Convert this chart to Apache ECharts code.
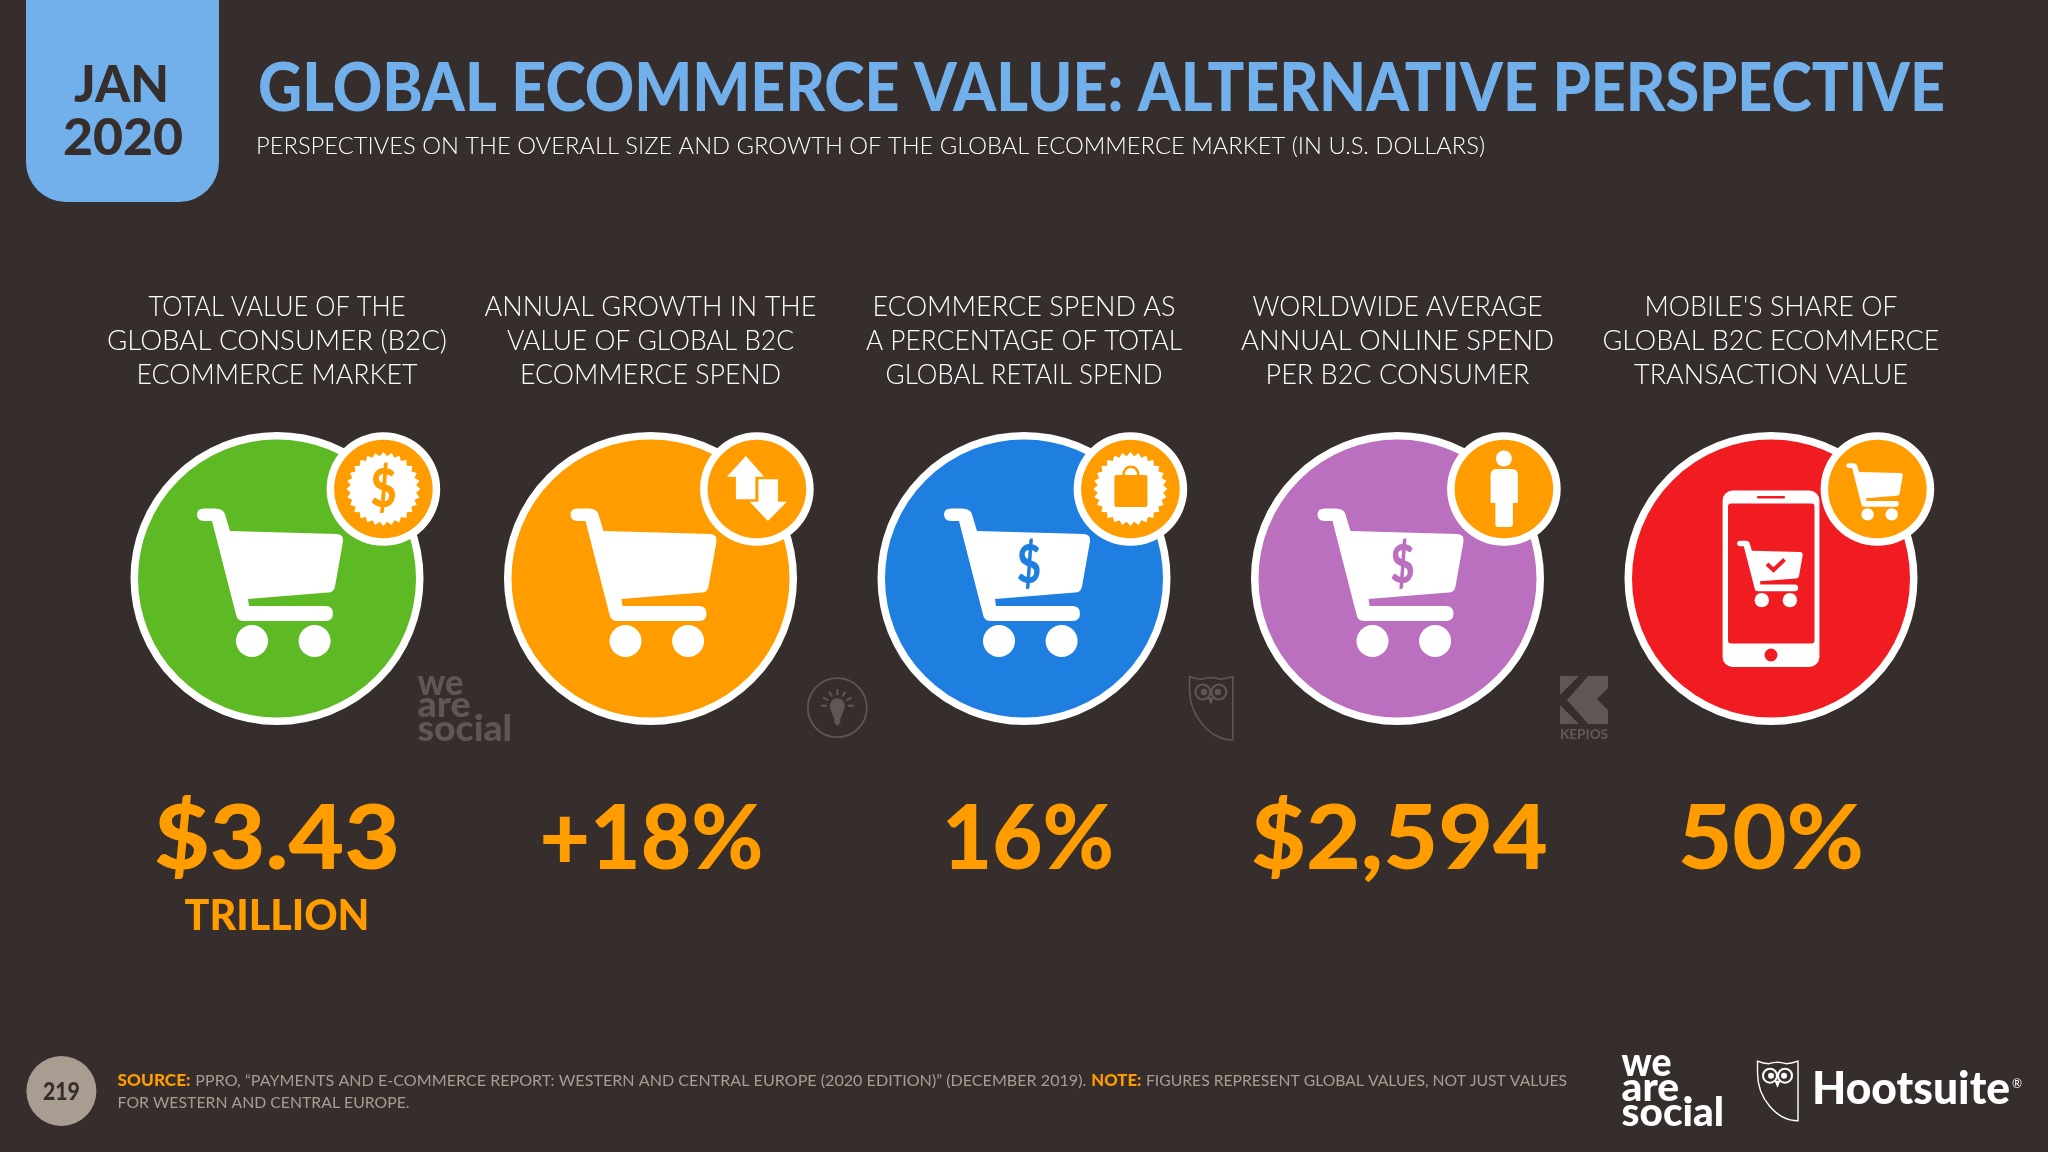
<!DOCTYPE html>
<html>
<head>
<meta charset="utf-8">
<title>Global Ecommerce Value: Alternative Perspective</title>
<style>
  html, body { margin: 0; padding: 0; background: #362e2c; }
  #chart { width: 2048px; height: 1152px; }
</style>
<script src="https://cdn.jsdelivr.net/npm/echarts@6/dist/echarts.min.js"></script>
</head>
<body>
<div id="chart"></div>
<script>
'use strict';

// slide data
const metricLabels = [
  ['TOTAL VALUE OF THE', 'GLOBAL CONSUMER (B2C)', 'ECOMMERCE MARKET'],
  ['ANNUAL GROWTH IN THE', 'VALUE OF GLOBAL B2C', 'ECOMMERCE SPEND'],
  ['ECOMMERCE SPEND AS', 'A PERCENTAGE OF TOTAL', 'GLOBAL RETAIL SPEND'],
  ['WORLDWIDE AVERAGE', 'ANNUAL ONLINE SPEND', 'PER B2C CONSUMER'],
  ["MOBILE'S SHARE OF", 'GLOBAL B2C ECOMMERCE', 'TRANSACTION VALUE']
];
const metricValues = ['$3.43', '+18%', '16%', '$2,594', '50%'];
const metricUnits = ['TRILLION', '', '', '', ''];
const metricKeys = ['market', 'growth', 'share', 'perConsumer', 'mobile'];

// styling
const discColors = ['#5dba24', '#ff9c00', '#1f7fe0', '#ba6fbf', '#f01c22'];
const labelWidths = [
  [257, 340, 281],
  [332, 287, 261],
  [303, 316, 277],
  [290, 313, 264],
  [253, 337, 274]
];
const valueWidths = [246, 224, 172, 297, 186];
const valueShifts = [0, 1, 4, 2, 0];
const BG = '#362e2c';
const BLUE = '#72b0ec';
const ORANGE = '#ff9c00';
const GREY = '#a89d90';
const FAINT = '#5f5755';
const LIGHT = 'Lato';

const CART = 'M-64.6 -70 C-58 -70 -53 -69 -52 -64 L-47 -47.5 L60 -44.5 Q67 -44 66 -37 L58 8 Q57 14 51 14 ' +
  'L-29 20.5 L-28 27.5 L48.5 27.5 Q56 27.5 56 35 Q56 42.5 48.5 42.5 L-34 42.5 Q-40 42.5 -41 36 ' +
  'L-65 -57.5 L-73 -57.5 Q-80 -58 -80 -64 Q-80 -70 -73 -70 Z';
const OWL = 'M0.5 0.5 C5 2.5 9 3 12 3 Q20 0 29 3 C33 3 37 2 41 0.5 L41 60 C20 60 0.5 38 0.5 12 Z';
const KEPIOS = ['M0 0 L19 0 L0 19 Z', 'M0 29 L19 48 L0 48 Z',
  'M28 0 L48 0 L48 12 L37 23 L48 34 L48 48 L28 48 L7 24 Z'];

const measure = document.createElement('canvas').getContext('2d');
function textWidth(text, font) {
  measure.font = font;
  return measure.measureText(text).width;
}

// text squeezed to a given width, the deck's font is much narrower than what we have here
function label(text, font, fill, x, y, width, align) {
  return {
    type: 'text', x: x, y: y, silent: true,
    scaleX: width ? width / textWidth(text, font) : 1,
    style: { text: text, font: font, fill: fill, align: align || 'left', verticalAlign: 'middle' }
  };
}

function poly(d, fill) {
  return { type: 'path', shape: { pathData: d }, style: { fill: fill } };
}

function dot(cx, cy, r, fill) {
  return { type: 'circle', shape: { cx: cx, cy: cy, r: r }, style: { fill: fill } };
}

function burst(n, outer, inner) {
  let d = '';
  for (let i = 0; i < n * 2; i++) {
    const r = i % 2 ? inner : outer;
    const a = Math.PI * i / n;
    d += (i ? 'L' : 'M') + (r * Math.sin(a)).toFixed(2) + ' ' + (-r * Math.cos(a)).toFixed(2) + ' ';
  }
  return d + 'Z';
}

function cart(x, y, scale, fill) {
  return {
    type: 'group', x: x, y: y, scaleX: scale, scaleY: scale,
    children: [poly(CART, fill), dot(-25, 62.5, 16, fill), dot(37.6, 62.5, 16, fill)]
  };
}

function badgeGlyph(key) {
  switch (key) {
    case 'market':
      return [poly(burst(28, 37, 33), '#fff'), label('$', '900 54px Lato', ORANGE, 0, 1, 26, 'center')];
    case 'growth':
      return [
        poly('M-11 -33 L7.3 -12.3 L-1.5 -12.3 L-1.5 10.3 L-21 10.3 L-21 -12.3 L-30 -12.3 Z', '#fff'),
        poly('M11 32 L-7.3 12.7 L1.5 12.7 L1.5 -9.7 L21 -9.7 L21 12.7 L30 12.7 Z', '#fff')
      ];
    case 'share':
      return [
        poly(burst(28, 37, 33), '#fff'),
        poly('M-14 -14 L15 -14 Q17 -14 17 -12 L17 16 Q17 18 15 18 L-14 18 Q-16 18 -16 16 L-16 -12 Q-16 -14 -14 -14 Z', ORANGE),
        { type: 'path', shape: { pathData: 'M-7 -14 C-7 -25 8 -25 8 -14' }, style: { fill: 'none', stroke: ORANGE, lineWidth: 2.5 } }
      ];
    case 'perConsumer':
      return [
        dot(0, -30.5, 8, '#fff'),
        poly('M-13.3 -14 Q-13.3 -20 -7 -20 L8 -20 Q14 -20 14 -14 L14 14 L9 14 L9 35 Q9 38 6 38 L-6 38 Q-8.5 38 -8.5 35 L-8.5 14 L-13.3 14 Z', '#fff')
      ];
    default:
      return [cart(-0.2, 1.3, 0.386, '#fff')];
  }
}

function discIcon(key, color) {
  if (key !== 'mobile') {
    const parts = [cart(0, 0, 1, '#fff')];
    if (key === 'share' || key === 'perConsumer') {
      parts.push(label('$', '900 54px Lato', color, 5, -13, 24, 'center'));
    }
    return parts;
  }
  return [
    { type: 'rect', shape: { x: -48.4, y: -88, width: 96.8, height: 176.5, r: 10 }, style: { fill: '#fff' } },
    { type: 'rect', shape: { x: -43, y: -75, width: 86.5, height: 140, r: 3 }, style: { fill: color } },
    { type: 'rect', shape: { x: -14, y: -82.5, width: 28, height: 2.5, r: 1 }, style: { fill: color } },
    dot(0, 76.5, 6.5, color),
    cart(2, -6.4, 0.449, '#fff'),
    { type: 'path', shape: { pathData: 'M-4 -14.5 L2.5 -8.5 L13.5 -19' }, style: { fill: 'none', stroke: color, lineWidth: 4 } }
  ];
}

function renderColumn(params, api) {
  const i = params.dataIndex;
  const c = api.coord([api.value(0), api.value(1)]);
  const children = [];
  metricLabels[i].forEach((line, n) => {
    children.push(label(line, '300 28px ' + LIGHT, '#fff', c[0], 307 + n * 34, labelWidths[i][n], 'center'));
  });
  children.push({ type: 'group', x: c[0], y: c[1], children: discIcon(metricKeys[i], discColors[i]) });
  children.push(dot(c[0] + 106.4, c[1] - 89.5, 56.8, '#fff'));
  children.push(dot(c[0] + 106.4, c[1] - 89.5, 49.3, ORANGE));
  children.push({ type: 'group', x: c[0] + 106.4, y: c[1] - 89.5, children: badgeGlyph(metricKeys[i]) });
  children.push(label(metricValues[i], '900 90px Lato', ORANGE, c[0] + valueShifts[i], 840, valueWidths[i], 'center'));
  if (metricUnits[i]) {
    children.push(label(metricUnits[i], '900 42px Lato', ORANGE, c[0], 916, 185, 'center'));
  }
  return { type: 'group', children: children };
}

function weAreSocial(x, y, scale, fill) {
  const f = '900 36px Lato';
  return {
    type: 'group', x: x, y: y, scaleX: scale, scaleY: scale,
    children: [
      label('we', f, fill, 0, 7, 46),
      label('are', f, fill, 0, 29.5, 53),
      label('social', f, fill, 0, 53, 94.5),
      dot(61.5, 40.7, 3, fill)
    ]
  };
}

function owl(x, y, scale, color) {
  const eye = cx => ({ type: 'circle', shape: { cx: cx, cy: 15, r: 7 }, style: { fill: 'none', stroke: color, lineWidth: 2 } });
  return {
    type: 'group', x: x, y: y, scaleX: scale, scaleY: scale,
    children: [
      { type: 'path', shape: { pathData: OWL }, style: { fill: 'none', stroke: color, lineWidth: 1.4 } },
      eye(13), eye(28), dot(14, 15, 3, color), dot(27, 15, 3, color),
      poly('M17.5 20 L23.5 20 L20.5 27 Z', color)
    ]
  };
}

function bulb(x, y) {
  const rays = [];
  for (let a = -90; a <= 90; a += 30) {
    const r = a * Math.PI / 180;
    rays.push({
      type: 'line',
      shape: { x1: 10.5 * Math.sin(r), y1: -2 - 10.5 * Math.cos(r), x2: 16.5 * Math.sin(r), y2: -2 - 16.5 * Math.cos(r) },
      style: { stroke: FAINT, lineWidth: 2 }
    });
  }
  return {
    type: 'group', x: x, y: y,
    children: [
      { type: 'circle', shape: { cx: 0, cy: 0, r: 29.5 }, style: { fill: 'none', stroke: FAINT, lineWidth: 1.8 } },
      dot(0, -2, 7.5, FAINT),
      poly('M-7 1 L-3 11 L-3 15 L0 18 L3 15 L3 11 L7 1 Z', FAINT)
    ].concat(rays)
  };
}

function kepios(x, y) {
  return {
    type: 'group', x: x, y: y,
    children: KEPIOS.map(d => poly(d, FAINT)).concat([
      label('KEPIOS', '900 13px Lato', FAINT, 0, 59, 48)
    ])
  };
}

function renderSlide() {
  return {
    type: 'group',
    children: [
      { type: 'rect', shape: { x: 26, y: -40, width: 193, height: 242, r: 40 }, style: { fill: BLUE } },
      label('JAN', '900 52px Lato', BG, 121.5, 85, 95, 'center'),
      label('2020', '900 52px Lato', BG, 123, 138, 120, 'center'),
      label('GLOBAL ECOMMERCE VALUE: ALTERNATIVE PERSPECTIVE', '900 66px Lato', BLUE, 258, 90, 1687),
      label('PERSPECTIVES ON THE OVERALL SIZE AND GROWTH OF THE GLOBAL ECOMMERCE MARKET (IN U.S. DOLLARS)',
        '300 24px ' + LIGHT, '#fff', 256, 146, 1229),

      weAreSocial(417.5, 676, 1, FAINT),
      bulb(837.3, 707.7),
      owl(1189, 676, 1.067, FAINT),
      kepios(1560, 676),

      dot(61.4, 1091, 35, GREY),
      label('219', '900 24px Lato', BG, 61.4, 1092, 37, 'center'),
      label('SOURCE:', '900 16px Lato', ORANGE, 117.6, 1081, 73),
      label('PPRO, \u201cPAYMENTS AND E-COMMERCE REPORT: WESTERN AND CENTRAL EUROPE (2020 EDITION)\u201d (DECEMBER 2019).',
        '400 16px ' + LIGHT, GREY, 195.3, 1081, 891),
      label('NOTE:', '900 16px Lato', ORANGE, 1091.3, 1081, 50),
      label('FIGURES REPRESENT GLOBAL VALUES, NOT JUST VALUES', '400 16px ' + LIGHT, GREY, 1146, 1081, 421),
      label('FOR WESTERN AND CENTRAL EUROPE.', '400 16px ' + LIGHT, GREY, 117.6, 1102.5, 292),

      weAreSocial(1621.6, 1056, 1.085, '#fff'),
      owl(1757, 1060.7, 1, '#fff'),
      label('Hootsuite', '900 46px Lato', '#fff', 1812, 1089, 198),
      label('\u00ae', '400 13px Lato', '#fff', 2012, 1084, 10)
    ]
  };
}

const chart = echarts.init(document.getElementById('chart'));
chart.setOption({
  backgroundColor: BG,
  animation: false,
  tooltip: { show: false },
  grid: { left: 90.25, width: 1867.5, top: 420, height: 317 },
  xAxis: { type: 'category', data: metricKeys, show: false },
  yAxis: { type: 'value', min: -1, max: 1, show: false },
  series: [
    {
      type: 'custom',
      coordinateSystem: 'none',
      silent: true,
      renderItem: renderSlide,
      data: [0]
    },
    {
      type: 'scatter',
      silent: true,
      symbolSize: 285.5,
      data: metricKeys.map((k, i) => ({
        value: [k, 0],
        itemStyle: { color: discColors[i], borderColor: '#fff', borderWidth: 7.5, opacity: 1 }
      }))
    },
    {
      type: 'custom',
      silent: true,
      clip: false,
      renderItem: renderColumn,
      data: metricKeys.map(k => [k, 0]),
      z: 3
    }
  ]
});
</script>
</body>
</html>
